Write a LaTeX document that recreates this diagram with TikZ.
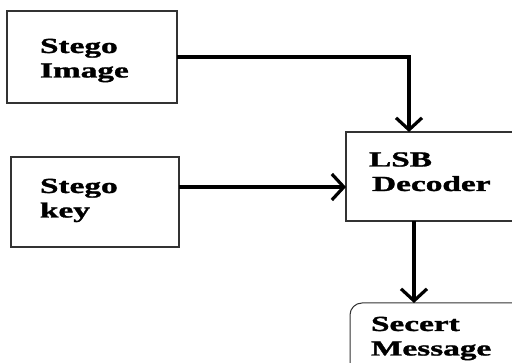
\documentclass[tikz,border=0pt]{standalone}
\usepackage{fontspec}
\setmainfont{Liberation Serif}[BoldFeatures={FakeBold=1.2}]
\usepackage{graphicx}
\usetikzlibrary{arrows.meta}
% wide bold two-line labels
\newcommand\widetext[1]{\scalebox{1.55}[1]{\begin{tabular}[t]{@{}l@{}}#1\end{tabular}}}
\tikzset{
  block/.style={draw=black!80, line width=1.4pt, rectangle, inner sep=0pt, outer sep=0pt},
  endbox/.style={block, line width=1pt, rounded corners=12pt},
  caption/.style={anchor=base west, inner sep=0pt, outer sep=0pt,
    font=\fontsize{21.5}{24.5}\selectfont\bfseries},
  flow/.style={line width=3.2pt, -{Straight Barb[length=12pt,width=26pt]}},
}
\begin{document}
\begin{tikzpicture}[x=1pt,y=-1pt]
\clip (0,0) rectangle (512,363);
% boxes
\node[block, minimum width=170pt, minimum height=92pt] (img) at (92,57) {};
\node[block, minimum width=168pt, minimum height=90pt] (key) at (95,202) {};
\node[block, minimum width=194pt, minimum height=89pt] (dec) at (443,176.5) {};
\node[endbox, minimum width=190pt, minimum height=90pt] (msg) at (445,348) {};
% labels
\node[caption] (imgtxt) at (40,53) {\widetext{Stego\\Image}};
\node[caption] (keytxt) at (40,193) {\widetext{Stego\\key}};
\node[caption] (dectxt) at (369,166.5) {\widetext{LSB\\\hspace{2pt}Decoder}};
\node[caption] (msgtxt) at (371,331) {\widetext{Secert\\Message}};
% connectors
\coordinate (turn) at (409,0);
\coordinate (keyrow) at (0,187);
\coordinate (drop) at (414,0);
\draw[flow] (img.east) -| (dec.north -| turn);
\draw[flow] (key.east |- keyrow) -- (dec.west |- keyrow);
\draw[flow] (dec.south -| drop) -- (msg.north -| drop);
\end{tikzpicture}
\end{document}
